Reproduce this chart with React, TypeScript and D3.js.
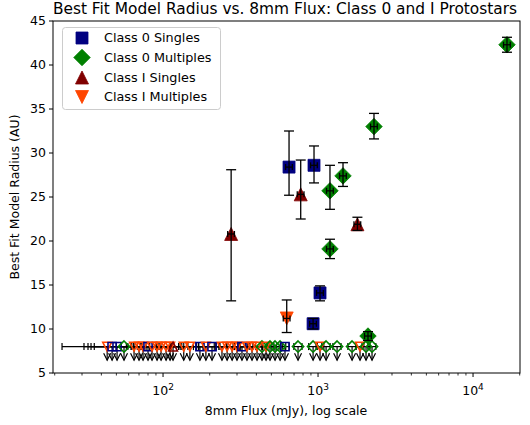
import React from 'react';
import * as d3 from 'd3';

// ---------- data ----------
// Detections (flux in mJy, radius in AU, asymmetric y errors)
const c0sFlux = [650, 942, 1030, 929];
const c0sRad = [28.4, 28.6, 14.1, 10.6];
const c0sErrLo = [3.2, 2.0, 0.9, 0.6];
const c0sErrHi = [4.1, 2.2, 0.8, 0.6];

const c0mFlux = [16560, 2296, 1449, 1194, 1194, 2100];
const c0mRad = [42.3, 33.0, 27.4, 25.7, 19.1, 9.2];
const c0mErrLo = [0.85, 1.4, 1.2, 2.1, 1.1, 0.5];
const c0mErrHi = [0.85, 1.5, 1.5, 2.9, 1.1, 0.5];

const c1sFlux = [275, 773, 1795];
const c1sRad = [20.8, 25.3, 21.9];
const c1sErrLo = [7.6, 2.8, 0.7];
const c1sErrHi = [7.3, 3.9, 0.8];

const c1mFlux = [628];
const c1mRad = [11.2];
const c1mErrLo = [1.6];
const c1mErrHi = [2.1];

// Upper limits (radius limit 8 AU), flux, flux error, class
const limRad = 8;
const limFlux = [43.6, 46.9, 50.5, 56, 65, 70, 74.3, 80, 84.9, 91.5, 97.1, 104.6, 111, 116, 136, 149, 173, 189, 207, 240, 259, 279, 300, 323, 348, 375, 404, 435, 462, 490, 528, 569, 612, 743, 929, 1030, 1127, 1327, 1658, 1866, 2040, 2230];
const limErr = [21.3, 16, 17.7, 21.7, 29, 12, 15, 30, 12, 20, 35, 40, 15, 20, 45, 20, 60, 25, 50, 70, 30, 60, 80, 40, 90, 60, 100, 40, 110, 50, 60, 50, 40, 45, 60, 60, 70, 80, 100, 110, 120, 130];
const limClass = ['I-M', '0-S', '0-S', '0-M', 'I-M', 'I-M', 'I-M', '0-S', 'I-M', 'I-M', 'I-M', 'I-M', 'I-M', 'I-S', 'I-M', 'I-M', '0-S', 'I-M', '0-S', 'I-M', 'I-M', 'I-M', 'I-M', '0-S', 'I-M', 'I-M', 'I-M', '0-M', 'I-M', '0-M', '0-M', '0-M', '0-S', '0-M', '0-M', 'I-M', '0-M', '0-M', '0-M', 'I-M', '0-M', '0-M'];

const legendLabels = ['Class 0 Singles', 'Class 0 Multiples', 'Class I Singles', 'Class I Multiples'];
const yTicks = [5, 10, 15, 20, 25, 30, 35, 40, 45];
const xMajor = [100, 1000, 10000];
const xMajorExp = ['2', '3', '4'];

// ---------- styling ----------
const FONT = 'DejaVu Sans, sans-serif';
const COLORS: Record<string, string> = { '0-S': '#000080', '0-M': '#008000', 'I-S': '#800000', 'I-M': '#FF4500' };
const SHAPES: Record<string, string> = { '0-S': 'square', '0-M': 'diamond', 'I-S': 'up', 'I-M': 'down' };

const L = 53, R = 520, T = 21, B = 373;

function markerPath(shape: string, cx: number, cy: number, s: number): string {
  const h = s / 2;
  switch (shape) {
    case 'square':
      return `M${cx - h},${cy - h}H${cx + h}V${cy + h}H${cx - h}Z`;
    case 'diamond':
      return `M${cx},${cy - h}L${cx + h},${cy}L${cx},${cy + h}L${cx - h},${cy}Z`;
    case 'up':
      return `M${cx},${cy - h}L${cx + h},${cy + h}L${cx - h},${cy + h}Z`;
    default:
      return `M${cx - h},${cy - h}L${cx + h},${cy - h}L${cx},${cy + h}Z`;
  }
}
const SIZE: Record<string, number> = { square: 12, diamond: 16.5, up: 13, down: 13 };

export default function App() {
  const x = d3.scaleLog().domain([Math.pow(10, 1.29), Math.pow(10, 4.303)]).range([L, R]);
  const y = d3.scaleLinear().domain([5, 45]).range([B, T]);

  const minorTicks: number[] = [];
  for (let e = 1; e <= 4; e++) {
    for (let m = 2; m <= 9; m++) {
      const v = m * Math.pow(10, e);
      if (x(v) >= L && x(v) <= R) minorTicks.push(v);
    }
  }

  const groups = [
    { key: '0-S', flux: c0sFlux, rad: c0sRad, lo: c0sErrLo, hi: c0sErrHi },
    { key: '0-M', flux: c0mFlux, rad: c0mRad, lo: c0mErrLo, hi: c0mErrHi },
    { key: 'I-S', flux: c1sFlux, rad: c1sRad, lo: c1sErrLo, hi: c1sErrHi },
    { key: 'I-M', flux: c1mFlux, rad: c1mRad, lo: c1mErrLo, hi: c1mErrHi },
  ];

  const capH = 5;
  const ebStroke = '#000';
  const ebW = 1.3;

  // limits
  const limElems: React.ReactNode[] = [];
  const limBars: React.ReactNode[] = [];
  limFlux.forEach((f, i) => {
    const cx = x(f);
    const cy = y(limRad);
    const x0 = x(Math.max(f - limErr[i], 1));
    const x1 = x(f + limErr[i]);
    const cls = limClass[i];
    limElems.push(
      <path key={'lm' + i} d={markerPath(SHAPES[cls], cx, cy, SIZE[SHAPES[cls]] * 0.68)} fill="none" stroke={COLORS[cls]} strokeWidth={1.6} />
    );
    const ay = y(6.45);
    limBars.push(
      <g key={'lb' + i} stroke="#000" strokeWidth={1.2} fill="none">
        <line x1={x0} x2={x1} y1={cy} y2={cy} />
        <line x1={x0} x2={x0} y1={cy - 3.5} y2={cy + 3.5} />
        <line x1={x1} x2={x1} y1={cy - 3.5} y2={cy + 3.5} />
        <line x1={cx} x2={cx} y1={cy} y2={ay} />
        <path d={`M${cx - 3.5},${ay - 7}L${cx},${ay}L${cx + 3.5},${ay - 7}`} />
      </g>
    );
  });

  const detElems: React.ReactNode[] = [];
  groups.forEach((g) => {
    g.flux.forEach((f, i) => {
      const cx = x(f);
      const cy = y(g.rad[i]);
      const yt = y(g.rad[i] + g.hi[i]);
      const yb = y(g.rad[i] - g.lo[i]);
      const xl = x(f * 0.95);
      const xr = x(f * 1.05);
      const shape = SHAPES[g.key];
      detElems.push(
        <g key={g.key + i}>
          <path d={markerPath(shape, cx, cy, SIZE[shape])} fill={COLORS[g.key]} stroke={COLORS[g.key]} strokeWidth={0.8} />
          <g stroke={ebStroke} strokeWidth={ebW}>
            <line x1={cx} x2={cx} y1={yt} y2={yb} />
            <line x1={cx - capH} x2={cx + capH} y1={yt} y2={yt} />
            <line x1={cx - capH} x2={cx + capH} y1={yb} y2={yb} />
            <line x1={xl} x2={xr} y1={cy} y2={cy} />
            <line x1={xl} x2={xl} y1={cy - 3} y2={cy + 3} />
            <line x1={xr} x2={xr} y1={cy - 3} y2={cy + 3} />
          </g>
        </g>
      );
    });
  });

  const legendKeys = ['0-S', '0-M', 'I-S', 'I-M'];
  const legendY = [38, 57.5, 77.5, 97];

  return (
    <svg width={530} height={425} style={{ position: 'absolute', left: 0, top: 0, background: '#fff' }} fontFamily={FONT}>
      <rect x={0} y={0} width={530} height={425} fill="#fff" />
      <text x={285} y={14} fontSize={15.4} textAnchor="middle" fill="#000">Best Fit Model Radius vs. 8mm Flux: Class 0 and I Protostars</text>

      <defs>
        <clipPath id="plotclip"><rect x={L} y={T} width={R - L} height={B - T} /></clipPath>
      </defs>
      <g clipPath="url(#plotclip)">
        {limBars}
        {limElems}
        {detElems}
      </g>

      {/* axes spines */}
      <rect x={L} y={T} width={R - L} height={B - T} fill="none" stroke="#000" strokeWidth={1} />

      {/* y ticks */}
      {yTicks.map((t) => (
        <g key={'yt' + t}>
          <line x1={L - 4} x2={L} y1={y(t)} y2={y(t)} stroke="#000" strokeWidth={1} />
          <text x={L - 7} y={y(t)} dy="0.35em" fontSize={12.5} textAnchor="end" fill="#000">{t}</text>
        </g>
      ))}
      {/* x ticks */}
      {xMajor.map((t, i) => (
        <g key={'xt' + t}>
          <line x1={x(t)} x2={x(t)} y1={B} y2={B + 4} stroke="#000" strokeWidth={1} />
          <text x={x(t)} y={395} fontSize={12.5} textAnchor="middle" fill="#000">
            10<tspan dy={-5} fontSize={9}>{xMajorExp[i]}</tspan>
          </text>
        </g>
      ))}
      {minorTicks.map((t) => (
        <line key={'mt' + t} x1={x(t)} x2={x(t)} y1={B} y2={B + 2.5} stroke="#000" strokeWidth={0.8} />
      ))}

      <text x={286} y={415} fontSize={12.5} textAnchor="middle" fill="#000">8mm Flux (mJy), log scale</text>
      <text transform={`translate(19,${(T + B) / 2}) rotate(-90)`} fontSize={12.5} textAnchor="middle" fill="#000">Best Fit Model Radius (AU)</text>

      {/* legend */}
      <rect x={62.5} y={27.5} width={158} height={82} rx={3} fill="#fff" fillOpacity={0.8} stroke="#ccc" strokeWidth={1} />
      {legendKeys.map((k, i) => (
        <g key={'lg' + k}>
          <path d={markerPath(SHAPES[k], 82, legendY[i], SIZE[SHAPES[k]])} fill={COLORS[k]} stroke={COLORS[k]} strokeWidth={0.8} />
          <text x={104} y={legendY[i]} dy="0.35em" fontSize={12.8} fill="#000">{legendLabels[i]}</text>
        </g>
      ))}
    </svg>
  );
}
